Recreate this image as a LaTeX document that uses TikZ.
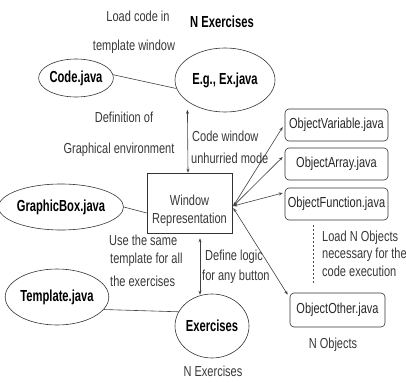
\documentclass[tikz,border=0pt]{standalone}
\usepackage{fontspec}
\usetikzlibrary{shapes.geometric,arrows.meta}
\newfontfamily\labfont[FakeStretch=0.76]{Liberation Sans}
\newfontfamily\ellfont[FakeStretch=0.7]{Liberation Sans Bold}
\begin{document}
\begin{tikzpicture}[x=1pt,y=-1pt,
  lab/.style={font=\labfont\fontsize{14.5}{16}\selectfont, text=black!78, inner sep=0pt},
  ell/.style={ellipse, draw=black!80, line width=0.6pt, inner sep=0pt, font=\ellfont\fontsize{16}{18}\selectfont, text=black},
  obox/.style={draw=black!80, line width=0.6pt, rounded corners=4pt, minimum width=103pt, minimum height=32pt, inner sep=0pt, font=\labfont\fontsize{14.5}{16}\selectfont, text=black!85},
  wbox/.style={draw=black!80, line width=0.6pt, minimum width=85pt, minimum height=60pt, inner sep=0pt},
  con/.style={draw=black!75, line width=0.6pt},
  bi/.style={con, {Stealth[length=4pt,width=3pt]}-{Stealth[length=4pt,width=3pt]}}
]
\useasboundingbox (0,0) rectangle (406,382);

% ellipses
\node[ell, minimum width=64pt, minimum height=38pt] (code) at (76,78) {Code.java};
\node[ell, minimum width=100pt, minimum height=64pt] (eg) at (225,80) {E.g., Ex.java};
\node[ell, minimum width=108pt, minimum height=46pt] (gb) at (61,207) {GraphicBox.java};
\node[ell, minimum width=100pt, minimum height=56pt] (tpl) at (57,297) {Template.java};
\node[ell, minimum width=70pt, minimum height=64pt] (ex) at (212,326) {Exercises};

% window box
\node[wbox] (win) at (189.5,203) {};
\node[lab] (w1) at (189.5,200) {Window};
\node[lab] (w2) at (189.5,220) {Representation};

% object boxes
\node[obox] (var) at (336.5,125) {ObjectVariable.java};
\node[obox] (arr) at (336.5,164) {ObjectArray.java};
\node[obox] (fn) at (336.5,204) {ObjectFunction.java};
\node[obox, minimum width=95pt, minimum height=34pt] (oth) at (337.5,310) {ObjectOther.java};

% labels
\node[lab] (l1) at (138,16) {Load code in};
\node[lab] (l2) at (134,47) {template window};
\node[font=\ellfont\fontsize{16}{18}\selectfont, inner sep=0pt] (ntop) at (222,22) {N Exercises};
\node[lab] (l3) at (124,117) {Definition of};
\node[lab] (l4) at (119,150) {Graphical environment};
\node[lab, anchor=west] (l5) at (192,136) {Code window};
\node[lab, anchor=west] (l6) at (191,158) {unhurried mode};
\node[lab, anchor=west] (l7) at (322,238) {Load N Objects};
\node[lab, anchor=west] (l8) at (322,255) {necessary for the};
\node[lab, anchor=west] (l9) at (322,271) {code execution};
\node[lab, anchor=west] (l10) at (109,240) {Use the same};
\node[lab, anchor=west] (l11) at (110,260) {template for all};
\node[lab, anchor=west] (l12) at (110,281) {the exercises};
\node[lab, anchor=west] (l13) at (205,257) {Define logic};
\node[lab, anchor=west] (l14) at (202,277) {for any button};
\node[lab] (l15) at (333,345) {N Objects};
\node[lab] (l16) at (213,371) {N Exercises};

% connectors
\draw[con] (code.5) -- (eg.190);
\draw[con] (gb.east) -- ([yshift=-10pt]win.west);
\draw[con] (tpl.-15) -- (ex.157);
\draw[bi] ([xshift=-2pt,yshift=-7pt]eg.south west) -- ([xshift=-1.5pt]win.north);
\draw[bi] ([xshift=10.5pt,yshift=-5pt]win.south) -- ([xshift=-12pt,yshift=-1pt]ex.north);
\coordinate (p) at ([xshift=1pt,yshift=-3pt]win.east);
\draw[bi] (p) -- ([xshift=-2pt,yshift=-2pt]var.west);
\draw[bi] (p) -- ([xshift=-2pt,yshift=7pt]arr.west);
\draw[bi] (p) -- ([xshift=-2pt,yshift=11pt]fn.west);
\draw[bi] ([xshift=1pt,yshift=-5pt]win.east) -- ([xshift=-2pt,yshift=-2pt]oth.north west);

% dashed line
\coordinate (d1) at (313,225);
\coordinate (d2) at (313,283);
\draw[draw=black!70, line width=0.5pt, dash pattern=on 2pt off 2pt] (d1) -- (d2);
\end{tikzpicture}
\end{document}
